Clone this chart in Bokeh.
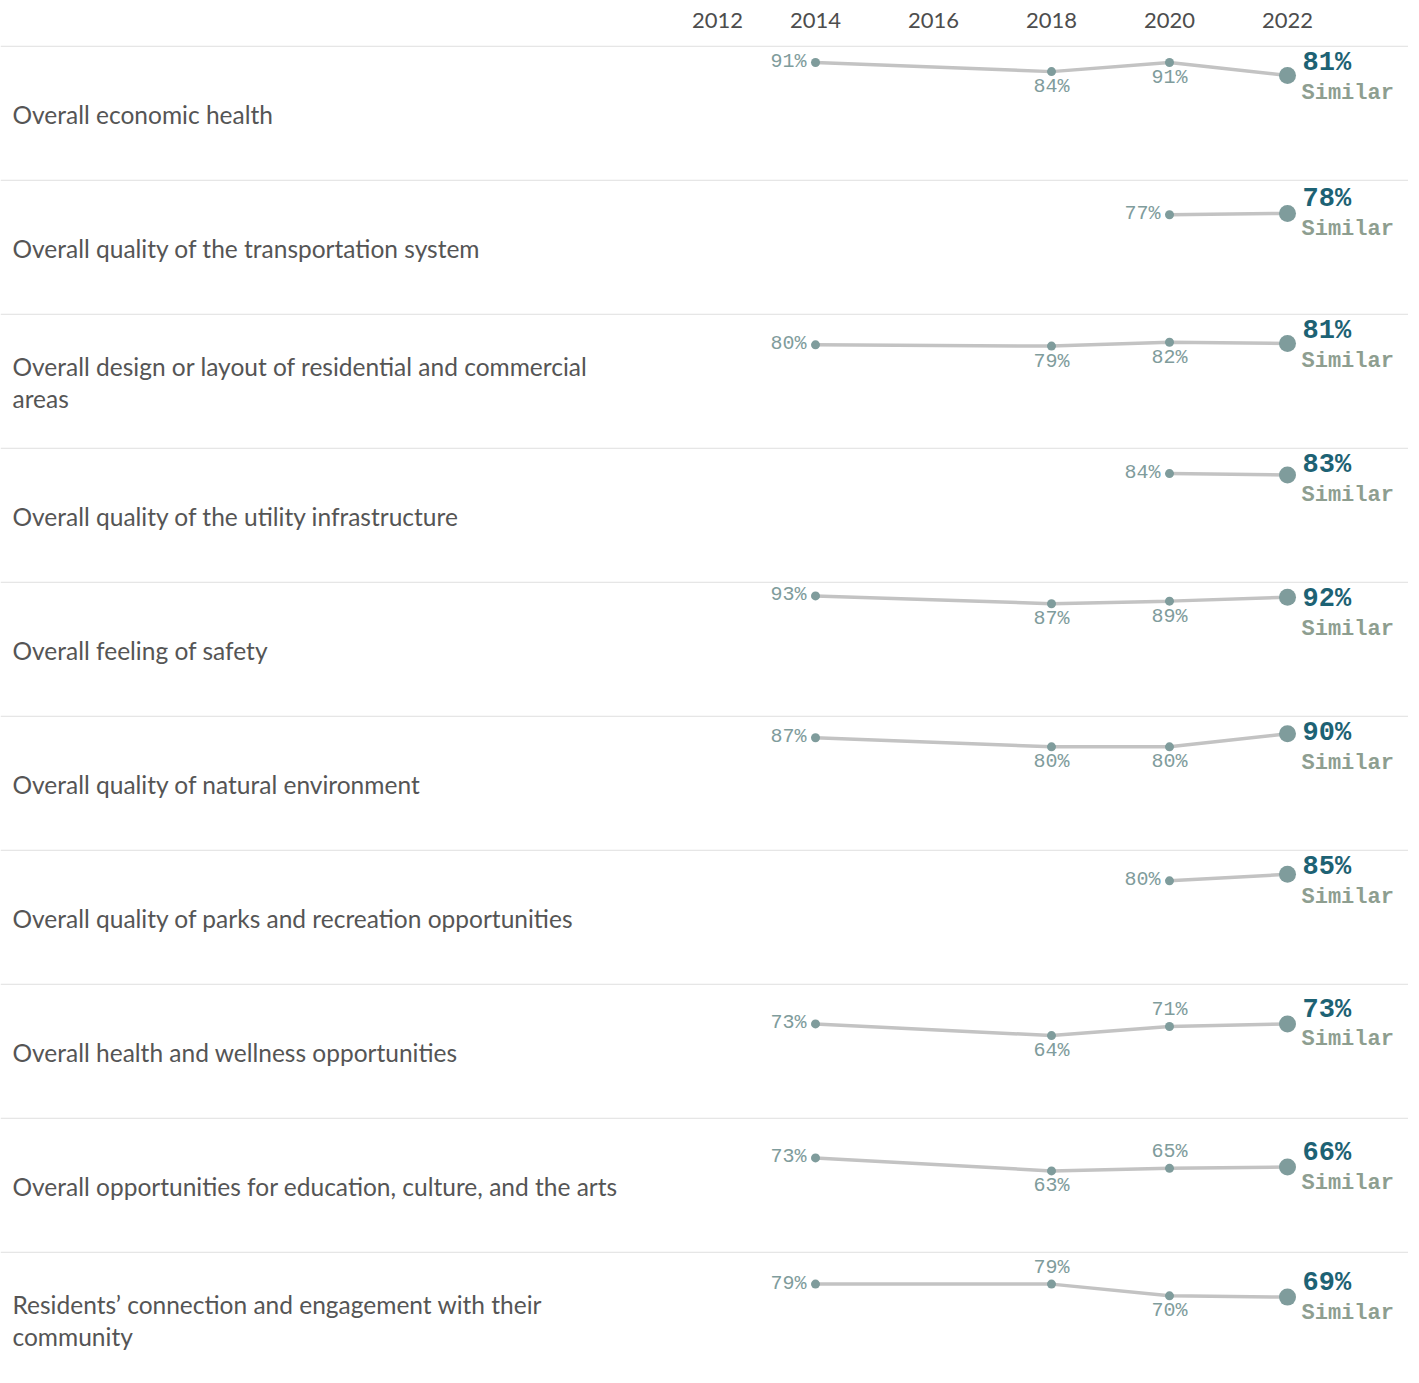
from bokeh.plotting import figure
from bokeh.models import ColumnDataSource, Label, Range1d, Span
from bokeh.layouts import column
from bokeh.core.properties import value
from bokeh.embed import file_html
from bokeh.resources import INLINE

# ---------------- data ----------------
header_years = [2012, 2014, 2016, 2018, 2020, 2022]
header_labels = ["2012", "2014", "2016", "2018", "2020", "2022"]
survey_years = [2014, 2018, 2020, 2022]

categories = [
    "Overall economic health",
    "Overall quality of the transportation system",
    "Overall design or layout of residential and commercial\nareas",
    "Overall quality of the utility infrastructure",
    "Overall feeling of safety",
    "Overall quality of natural environment",
    "Overall quality of parks and recreation opportunities",
    "Overall health and wellness opportunities",
    "Overall opportunities for education, culture, and the arts",
    "Residents\u2019 connection and engagement with their\ncommunity",
]
v2014 = [91, None, 80, None, 93, 87, None, 73, 73, 79]
v2018 = [84, None, 79, None, 87, 80, None, 64, 63, 79]
v2020 = [91, 77, 82, 84, 89, 80, 80, 71, 65, 70]
v2022 = [81, 78, 81, 83, 92, 90, 85, 73, 66, 69]
comparison = ["Similar"] * 10

# label placement of the intermediate points (style)
side2018 = ["below", None, "below", None, "below", "below", None, "below", "below", "above"]
side2020 = ["below", "left", "below", "left", "below", "below", "left", "above", "above", "below"]

# ---------------- style ----------------
W = 1408
X0, X1 = 2000.186, 2024.051
LABEL_FONT = value("Lato")
MONO = value("Liberation Mono")
C_DOT = "#7f9c9c"
C_LINE = "#c3c3c3"
C_PCT = "#1d6274"
C_SIM = "#8e9e90"
C_TXT = "#555555"
C_SEP = "#d9d9d9"


def base_fig(h, y0, y1):
    p = figure(width=W, height=h, x_range=Range1d(X0, X1), y_range=Range1d(y0, y1),
               x_axis_type=None, y_axis_type=None, toolbar_location=None,
               output_backend="svg", min_border=0, min_border_left=0,
               min_border_right=0, min_border_top=0, min_border_bottom=0)
    p.grid.visible = False
    p.outline_line_color = None
    p.background_fill_color = "white"
    p.border_fill_color = "white"
    return p


# header
hdr = base_fig(45, 0, 45)
hdr_src = ColumnDataSource(dict(x=header_years, t=header_labels,
                                xo=[20, 0, 0, 0, 0, 0]))
hdr.text(x="x", y=25, text="t", source=hdr_src, x_offset="xo",
         text_font=LABEL_FONT, text_font_size="22px", text_color="#4d4d4d",
         text_align="center", text_baseline="middle")

figs = [hdr]
offsets = {"left": ("right", -9, -1), "below": ("center", 0, 15), "above": ("center", 0, -17)}

for i, cat in enumerate(categories):
    last = i == len(categories) - 1
    h = 130 if last else 134
    y0 = (135.3 - h) / 1.3
    p = base_fig(h, y0, 104.1)
    p.add_layout(Span(location=103.6, dimension="width", line_color=C_SEP, line_width=1))

    vals = [v2014[i], v2018[i], v2020[i], v2022[i]]
    xs = [yr for yr, v in zip(survey_years, vals) if v is not None]
    ys = [v for v in vals if v is not None]

    p.line(xs, ys, line_color=C_LINE, line_width=3.5)
    p.scatter(xs[:-1], ys[:-1], size=9, fill_color=C_DOT, line_color=None)
    p.scatter(xs[-1:], ys[-1:], size=17, fill_color=C_DOT, line_color=None)

    # small labels
    sides = []
    for k, (yr, v) in enumerate(zip(survey_years, vals)):
        if v is None or yr == 2022:
            continue
        if len(sides) == 0:
            s = "left"
        elif yr == 2018:
            s = side2018[i]
        else:
            s = side2020[i]
        sides.append(s)
    sx, sy, st, sa, sxo, syo = [], [], [], [], [], []
    for yr, v, s in zip(xs[:-1], ys[:-1], sides):
        a, xo, yo = offsets[s]
        sx.append(yr); sy.append(v); st.append(f"{v}%"); sa.append(a); sxo.append(xo); syo.append(yo)
    src = ColumnDataSource(dict(x=sx, y=sy, t=st, a=sa, xo=sxo, yo=syo))
    p.text(x="x", y="y", text="t", source=src, text_align="a", x_offset="xo", y_offset="yo",
           text_baseline="middle", text_font=MONO, text_font_size="20px", text_color=C_DOT)

    # last value labels
    ly = min(ys[-1], 79.5)
    p.text(x=[xs[-1]], y=[ly], text=[f"{ys[-1]}%"], x_offset=15, y_offset=-14,
           text_align="left", text_baseline="middle", text_font=MONO,
           text_font_size="27px", text_font_style="bold", text_color=C_PCT)
    p.text(x=[xs[-1]], y=[ly], text=[comparison[i]], x_offset=14, y_offset=16,
           text_align="left", text_baseline="middle", text_font=MONO,
           text_font_size="22px", text_font_style="bold", text_color=C_SIM)

    p.add_layout(Label(x=12, x_units="screen", y=51, text=cat, text_font="Lato",
                       text_font_size="24.5px", text_color=C_TXT, text_baseline="middle",
                       text_line_height=1.1))
    figs.append(p)

layout = column(*figs, spacing=0)
open("out.html", "w").write(file_html(layout, INLINE))
